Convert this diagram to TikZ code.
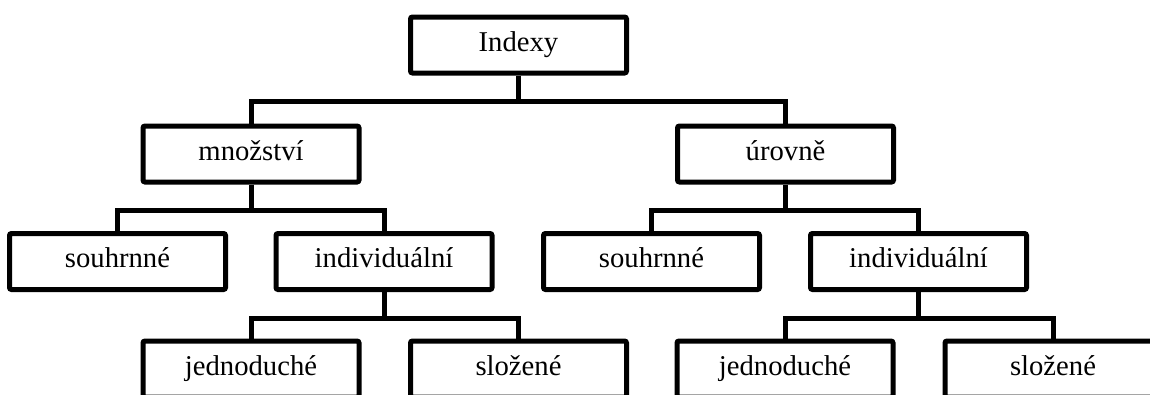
\documentclass[tikz,border=0pt]{standalone}
\usepackage{fontspec}
\setmainfont{Liberation Serif}
\usepackage{tikz}
\usetikzlibrary{positioning}

\begin{document}
\begin{tikzpicture}[x=0.75pt, y=0.75pt, line width=3.75pt,
        box/.style={rectangle, draw, rounded corners=1.5pt, minimum width=162pt, minimum height=42pt,
                    inner sep=0pt, text height=14pt, text depth=4.5pt, font=\fontsize{21.5}{25}\selectfont}]

        \path[use as bounding box, clip] (0,0) rectangle (1150,394);

        % Nodes
        \node (I) [box] at (518.5,349) {Indexy};

        \node (M) [box] at (251,240) {množství};
        \node (U) [box] at (785.5,240) {úrovně};

        \node (MS) [box] at (117.5,132.5) {souhrnné};
        \node (MI) [box] at (384,132.5) {individuální};
        \node (US) [box] at (651.5,132.5) {souhrnné};
        \node (UI) [box] at (918.5,132.5) {individuální};

        \node (MJ) [box] at (251,25) {jednoduché};
        \node (MZ) [box] at (518.5,25) {složené};
        \node (UJ) [box] at (785,25) {jednoduché};
        \node (UZ) [box] at (1053,25) {složené};

        % Lines
        \draw (I.south) -- ++(0,-26) -| (M.north);
        \draw (I.south) -- ++(0,-26) -| (U.north);
        \draw (M.south) -- ++(0,-26) -| (MS.north);
        \draw (M.south) -- ++(0,-26) -| (MI.north);
        \draw (U.south) -- ++(0,-26) -| (US.north);
        \draw (U.south) -- ++(0,-26) -| (UI.north);
        \draw (MI.south) -- ++(0,-26) -| (MJ.north);
        \draw (MI.south) -- ++(0,-26) -| (MZ.north);
        \draw (UI.south) -- ++(0,-26) -| (UJ.north);
        \draw (UI.south) -- ++(0,-26) -| (UZ.north);

\end{tikzpicture}
\end{document}
